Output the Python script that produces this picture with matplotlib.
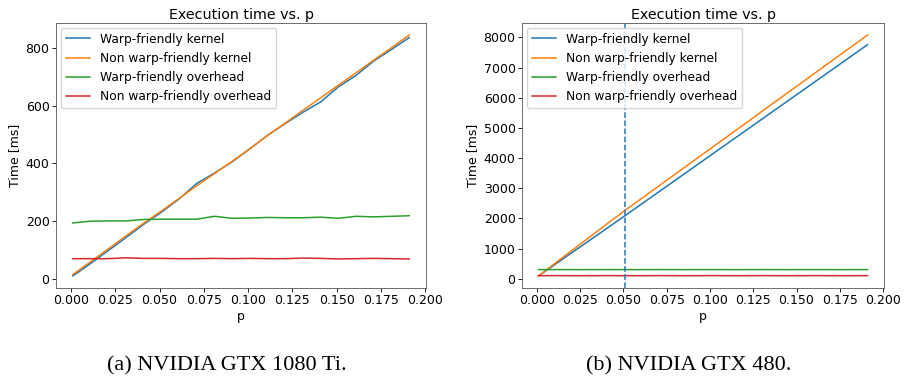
import numpy as np
import matplotlib.pyplot as plt

# sampled p values (same for both GPUs)
p = [0.001, 0.011, 0.021, 0.031, 0.041, 0.051, 0.061, 0.071, 0.081, 0.091,
     0.101, 0.111, 0.121, 0.131, 0.141, 0.151, 0.161, 0.171, 0.181, 0.191]

# (a) GTX 1080 Ti
a_warp_kernel = [9, 52, 97, 142, 188, 230, 276, 330, 366, 405,
                 450, 497, 538, 577, 613, 665, 705, 755, 795, 836]
a_nonwarp_kernel = [14, 58, 103, 148, 192, 234, 278, 322, 364, 407,
                    451, 496, 540, 584, 627, 671, 714, 758, 801, 845]
a_warp_overhead = [193, 199, 200, 200, 205, 206, 206, 206, 216, 209,
                   210, 212, 211, 211, 213, 209, 216, 214, 216, 218]
a_nonwarp_overhead = [69, 69, 69, 72, 70, 70, 69, 69, 70, 69,
                      70, 69, 69, 71, 70, 68, 69, 70, 69, 68]

# (b) GTX 480
b_warp_kernel = [90, 490, 890, 1290, 1690, 2090, 2495, 2900, 3305, 3710,
                 4115, 4520, 4925, 5330, 5735, 6140, 6545, 6950, 7355, 7760]
b_nonwarp_kernel = [90, 530, 965, 1400, 1835, 2265, 2680, 3095, 3510, 3925,
                    4340, 4755, 5170, 5590, 6005, 6420, 6835, 7250, 7665, 8080]
b_warp_overhead = [300, 301, 300, 300, 301, 300, 300, 301, 300, 300,
                   301, 300, 300, 301, 300, 300, 301, 300, 300, 301]
b_nonwarp_overhead = [100, 101, 100, 100, 101, 100, 100, 101, 100, 100,
                      101, 100, 100, 101, 100, 100, 101, 100, 100, 101]
b_marker_p = 0.051

labels = ['Warp-friendly kernel', 'Non warp-friendly kernel',
          'Warp-friendly overhead', 'Non warp-friendly overhead']
captions = ['(a) NVIDIA GTX 1080 Ti.', '(b) NVIDIA GTX 480.']

plt.rcParams['font.family'] = 'DejaVu Sans'
plt.rcParams['axes.linewidth'] = 0.6
plt.rcParams['xtick.major.width'] = 0.6
plt.rcParams['ytick.major.width'] = 0.6
plt.rcParams['xtick.major.size'] = 2.6
plt.rcParams['ytick.major.size'] = 2.6

fig = plt.figure(figsize=(9.05, 3.83), dpi=100)
ax1 = fig.add_axes([56 / 905, 95 / 383, 370 / 905, 265 / 383])
ax2 = fig.add_axes([522 / 905, 95 / 383, 362 / 905, 265 / 383])

datasets = [
    (ax1, [a_warp_kernel, a_nonwarp_kernel, a_warp_overhead, a_nonwarp_overhead]),
    (ax2, [b_warp_kernel, b_nonwarp_kernel, b_warp_overhead, b_nonwarp_overhead]),
]

for ax, series in datasets:
    for s, lab in zip(series, labels):
        ax.plot(p, s, label=lab, linewidth=1.1)
    ax.set_title('Execution time vs. p', fontsize=10.3, pad=3)
    ax.set_xlabel('p', fontsize=9, labelpad=2)
    ax.set_ylabel('Time [ms]', fontsize=9, labelpad=3)
    ax.set_xticks(np.arange(0, 0.2001, 0.025))
    ax.tick_params(labelsize=9, pad=2)
    for sp in ax.spines.values():
        sp.set_edgecolor('#555555')
    ax.legend(loc='upper left', fontsize=8.8, handlelength=2.0,
              borderaxespad=0.4, labelspacing=0.5, framealpha=0.8)

ax2.axvline(b_marker_p, color='C0', linestyle='--', linewidth=1.1)

fig.text(227 / 905, 1 - 366 / 383, captions[0], ha='center', va='center',
         fontsize=16, family='Liberation Serif')
fig.text(689 / 905, 1 - 366 / 383, captions[1], ha='center', va='center',
         fontsize=16, family='Liberation Serif')

fig.savefig('out.png', dpi=100, facecolor='white')
